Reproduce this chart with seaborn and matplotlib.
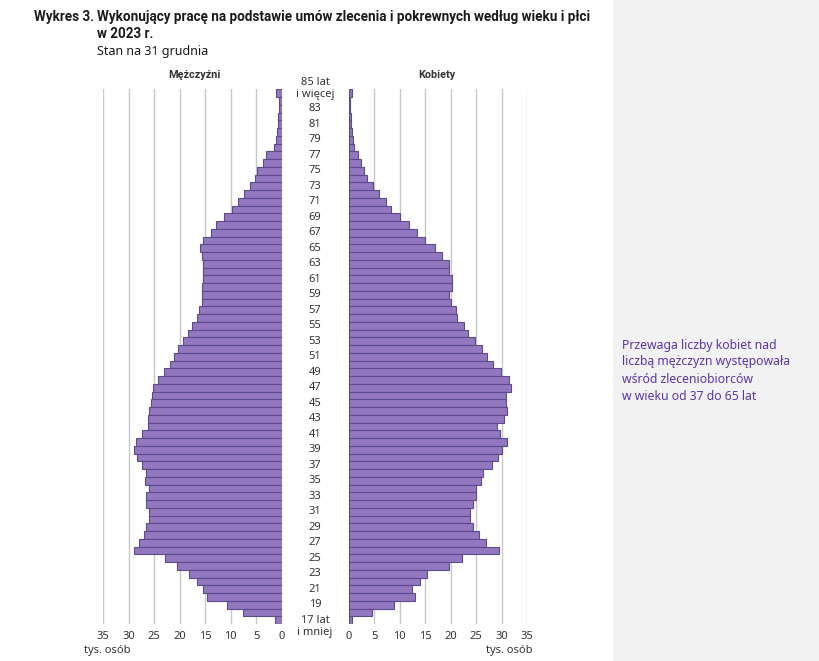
import matplotlib
matplotlib.use("Agg")
import matplotlib.pyplot as plt
import matplotlib.transforms as mtransforms
from matplotlib.patches import Rectangle
import seaborn as sns
import pandas as pd

# ---- data (ages 17 ... 84, 85+) ----
ages = [str(a) for a in range(17, 85)] + ["85+"]

men = [1.4, 7.5, 10.7, 14.6, 15.4, 16.7, 18.2, 20.5, 22.9, 28.9,
       28.0, 27.0, 26.6, 26.1, 26.1, 26.7, 26.7, 26.1, 26.8, 26.6,
       27.5, 28.3, 28.9, 28.6, 27.5, 26.2, 26.2, 26.0, 25.6, 25.4,
       25.2, 24.2, 23.0, 22.0, 21.1, 20.3, 19.4, 18.4, 17.5, 16.7,
       16.2, 15.7, 15.6, 15.7, 15.4, 15.35, 15.5, 15.6, 16.1, 15.4,
       13.9, 12.8, 11.4, 9.7, 8.6, 7.3, 6.3, 5.2, 4.8, 3.6,
       3.0, 1.6, 1.2, 0.9, 0.65, 0.65, 0.5, 0.5, 1.1]

women = [0.65, 4.5, 8.95, 12.9, 12.4, 14.0, 15.3, 19.6, 22.15, 29.4,
         27.0, 25.5, 24.3, 23.85, 23.8, 24.35, 24.9, 24.9, 25.9, 26.25,
         28.0, 29.2, 30.1, 30.95, 29.65, 29.1, 30.4, 30.95, 30.75, 30.9,
         31.75, 31.5, 29.9, 28.2, 27.2, 26.1, 24.7, 23.45, 22.6, 21.15,
         21.0, 20.1, 19.65, 20.3, 20.2, 19.65, 19.7, 18.35, 17.0, 15.0,
         13.3, 11.75, 10.05, 8.2, 7.25, 5.9, 4.7, 3.6, 2.95, 2.35,
         1.75, 1.05, 0.85, 0.65, 0.4, 0.4, 0.3, 0.26, 0.6]

x_ticks = [0, 5, 10, 15, 20, 25, 30, 35]
title_1 = "Wykres 3."
title_2 = "Wykonujący pracę na podstawie umów zlecenia i pokrewnych według wieku i płci"
title_3 = "w 2023 r."
subtitle = "Stan na 31 grudnia"
label_men = "Mężczyźni"
label_women = "Kobiety"
unit = "tys. osób"
top_label = "85 lat\ni więcej"
bottom_label = "17 lat\ni mniej"
note_lines = ["Przewaga liczby kobiet nad",
              "liczbą mężczyzn występowała",
              "wśród zleceniobiorców",
              "w wieku od 37 do 65 lat"]

# ---- style ----
sns.set_theme(style="white")
plt.rcParams["font.family"] = ["Noto Sans", "DejaVu Sans"]

PURPLE = "#9378c0"
EDGE = "#5b4a8c"
GRID = "#c8c8c8"
TXT = "#333333"
NOTE = "#5a35a8"

W, H = 820, 661
def fx(px):
    return px / W
def fy(py):
    return 1 - py / H

df = pd.DataFrame({"wiek": ages, "M": men, "K": women})
order = ages[::-1]

fig = plt.figure(figsize=(W / 100, H / 100), dpi=100)
fig.patches.append(Rectangle((fx(613), 0), 1 - fx(613), 1, transform=fig.transFigure,
                             facecolor="#f2f2f2", edgecolor="none", zorder=-10))

top_px, bot_px = 89.3, 624.0
axL = fig.add_axes([fx(103.3), fy(bot_px), (281.7 - 103.3) / W, (bot_px - top_px) / H])
axR = fig.add_axes([fx(348.7), fy(bot_px), (527.3 - 348.7) / W, (bot_px - top_px) / H])

for ax, col in ((axL, "M"), (axR, "K")):
    ax.set_facecolor("none")
    sns.barplot(data=df, y="wiek", x=col, order=order, orient="h", color=PURPLE,
                saturation=1, width=1.0, edgecolor=EDGE, linewidth=0.8, ax=ax)
    ax.set_ylim(len(order) - 0.5, -0.5)
    ax.set_xticks(x_ticks)
    ax.set_xticklabels([str(t) for t in x_ticks])
    ax.set_axisbelow(True)
    ax.grid(axis="x", color=GRID, linewidth=1.0)
    ax.grid(axis="y", visible=False)
    ax.set_yticks([])
    ax.set_xlabel("")
    ax.set_ylabel("")
    for s in ax.spines.values():
        s.set_visible(False)
    ax.tick_params(axis="x", length=0, labelsize=8, labelcolor=TXT, pad=5)

axL.set_xlim(35, 0)
axR.set_xlim(0, 35)

# age labels in the middle
tr = mtransforms.blended_transform_factory(fig.transFigure, axL.transData)
xc = fx(315)
for a in range(19, 84, 2):
    idx = order.index(str(a))
    axL.text(xc, idx, str(a), transform=tr, ha="center", va="center",
             fontsize=8, color=TXT)
axL.text(xc, -0.6, top_label, transform=tr, ha="center", va="center",
         fontsize=8, color=TXT, linespacing=1.15)
axL.text(xc, len(order) - 1 + 0.8, bottom_label, transform=tr, ha="center", va="center",
         fontsize=8, color=TXT, linespacing=1.15)

# headers
hfam = ["Roboto", "DejaVu Sans"]
fig.text(fx(194), fy(75), label_men, ha="center", va="center", fontsize=7.8,
         fontweight="bold", family=hfam, color=TXT)
fig.text(fx(437), fy(75), label_women, ha="center", va="center", fontsize=7.8,
         fontweight="bold", family=hfam, color=TXT)

# unit labels
fig.text(fx(84), fy(650), unit, ha="left", va="center", fontsize=8, color=TXT)
fig.text(fx(532), fy(650), unit, ha="right", va="center", fontsize=8, color=TXT)

# titles (font size fitted to reference width)
tfam = ["DejaVu Sans Condensed", "Roboto", "DejaVu Sans"]
t2 = fig.text(fx(97), fy(17), title_2, ha="left", va="center", fontsize=10.5,
              fontweight="bold", family=tfam, color="#1a1a1a")
renderer = fig.canvas.get_renderer()
w = t2.get_window_extent(renderer).width
fs = 10.5 * (590 - 97) / w
t2.set_fontsize(fs)
t1 = fig.text(fx(94), fy(17), title_1, ha="right", va="center", fontsize=fs,
              fontweight="bold", family=tfam, color="#1a1a1a")
fig.text(fx(97), fy(34), title_3, ha="left", va="center", fontsize=fs,
         fontweight="bold", family=tfam, color="#1a1a1a")
fig.text(fx(97), fy(52), subtitle, ha="left", va="center", fontsize=9, color="#1a1a1a")

# side note
for i, line in enumerate(note_lines):
    fig.text(fx(622), fy(345 + 17 * i), line, ha="left", va="center",
             fontsize=8.8, color=NOTE)

fig.savefig("out.png", dpi=100)
